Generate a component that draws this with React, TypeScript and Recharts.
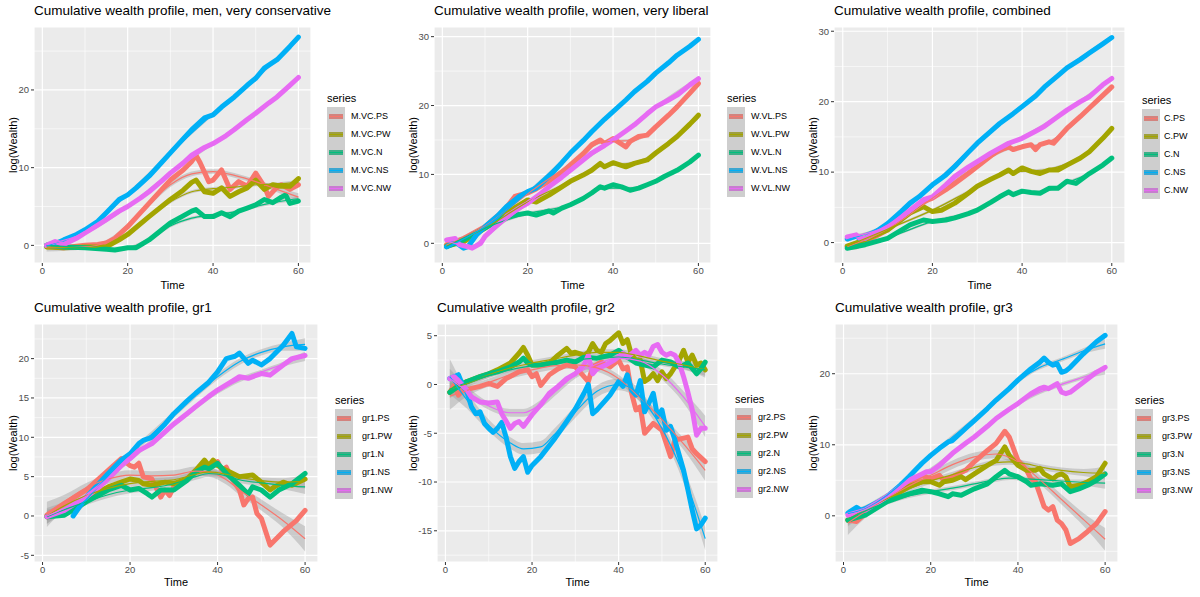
import { ComposedChart, Line, Area, XAxis, YAxis, CartesianGrid } from "recharts";

type Pt = [number, number];
// [time, fitted value, half-width of the confidence band]
type Fit = [number, number, number];

const FONT = "'Liberation Sans', Arial, sans-serif";
const COLORS = ["#F8766D", "#A3A500", "#00BF7D", "#00B0F6", "#E76BF3"];
const SUFFIXES = ["PS", "PW", "N", "NS", "NW"];
const X_TICKS = [0, 20, 40, 60];
const X_MINOR = [10, 30, 50];

// ---- men, very conservative ----
const M_VC_PS: Pt[] = [[1,0],[3,-0.2],[5,-0.3],[8,-0.1],[10,0],[13,0.1],[15,0.3],[17,0.9],[20,2.4],[22,3.6],[25,5.4],[28,7.2],[30,8.4],[33,9.7],[35,10.8],[36,11.6],[37,10.6],[39,8.2],[40,8.4],[42,9.7],[44,7.2],[46,8.2],[48,7.6],[50,9.3],[52,7.6],[53,6.3],[55,7.5],[56,7.8],[58,7.2],[60,7.8]];
const M_VC_PW: Pt[] = [[1,-0.2],[5,-0.3],[10,-0.2],[15,-0.2],[18,0.7],[20,1.4],[25,3.7],[30,5.9],[33,7.1],[35,8.1],[36,8.4],[38,6.9],[40,6.7],[42,7.4],[44,6.3],[46,6.9],[48,7.4],[50,8.4],[52,7.2],[54,7.8],[56,7.6],[58,7.6],[60,8.6]];
const M_VC_N: Pt[] = [[1,0],[5,-0.2],[10,-0.3],[15,-0.5],[17,-0.6],[20,-0.3],[22,-0.3],[25,0.7],[28,2],[30,2.9],[33,3.8],[35,4.4],[36,4.6],[38,3.7],[40,3.7],[42,4.2],[44,3.7],[46,4.4],[48,4.8],[50,5.2],[52,5.9],[54,5.5],[56,6.2],[57,6.5],[58,5.4],[60,5.7]];
const M_VC_NS: Pt[] = [[1,0],[3,0.2],[5,0.7],[8,1.4],[10,2],[13,3.1],[15,4.2],[18,5.9],[20,6.5],[22,7.4],[25,8.9],[28,10.7],[30,11.9],[33,13.7],[35,14.9],[38,16.4],[40,16.8],[42,17.8],[45,19.1],[48,20.6],[50,21.5],[52,22.8],[55,23.9],[58,25.6],[60,26.8]];
const M_VC_NW: Pt[] = [[1,0],[3,0.5],[5,0.1],[8,0.9],[10,1.6],[13,2.6],[15,3.3],[18,4.4],[20,5],[23,6.1],[25,6.9],[28,8.3],[30,9.3],[33,10.6],[35,11.6],[38,12.6],[40,13.1],[43,14.1],[45,14.9],[48,16.2],[50,17],[53,18.3],[55,19.1],[58,20.6],[60,21.6]];
const M_VC_PS_FIT: Fit[] = [[1,-0.3,0.5],[10,-0.2,0.3],[15,0.4,0.3],[20,2.5,0.3],[25,5.3,0.3],[30,7.8,0.3],[35,9.2,0.3],[40,9.5,0.3],[45,9,0.3],[50,8.2,0.3],[55,7.2,0.35],[60,6.2,0.5]];
const M_VC_PW_FIT: Fit[] = [[1,-0.2,0.3],[10,-0.3,0.2],[15,0,0.2],[20,1.5,0.2],[25,3.7,0.2],[30,5.6,0.2],[35,6.9,0.2],[40,7.3,0.2],[45,7.5,0.2],[50,7.8,0.2],[55,7.9,0.2],[60,8.1,0.3]];
const M_VC_N_FIT: Fit[] = [[1,0,0.3],[10,-0.3,0.2],[15,-0.5,0.2],[20,-0.3,0.2],[25,0.7,0.2],[30,2.5,0.2],[35,3.5,0.2],[40,3.9,0.2],[45,4.3,0.2],[50,5,0.2],[55,5.6,0.2],[60,6,0.3]];
const M_VC_NS_FIT: Fit[] = [[1,-0.1,0.3],[10,2,0.2],[20,6.6,0.2],[30,11.9,0.2],[40,16.9,0.2],[50,21.5,0.2],[60,26.6,0.3]];
const M_VC_NW_FIT: Fit[] = [[1,0.1,0.3],[10,1.6,0.2],[20,5,0.2],[30,9.3,0.2],[40,13.1,0.2],[50,17,0.2],[60,21.6,0.3]];

// ---- women, very liberal ----
const W_VL_PS: Pt[] = [[1,-0.2],[5,0.7],[10,2.4],[13,4],[15,5.2],[17,6.8],[18,7],[20,7.3],[22,7.9],[25,9],[28,10.3],[30,11.4],[33,13],[35,14.3],[37,15],[38,14.5],[40,15.2],[41,14.8],[43,14],[44,14.8],[46,15.5],[48,15.7],[50,16.9],[53,18.6],[55,19.8],[58,21.8],[60,23.2]];
const W_VL_PW: Pt[] = [[1,-0.4],[5,0.2],[10,2.2],[15,4.4],[20,6.3],[22,6],[25,7],[28,8.2],[30,9],[33,9.9],[35,10.6],[37,11.6],[38,11.1],[40,11.7],[43,11.1],[45,11.6],[48,12.1],[50,13.1],[53,14.5],[55,15.5],[58,17.3],[60,18.6]];
const W_VL_N: Pt[] = [[1,-0.5],[5,0.5],[10,2.2],[15,3.9],[18,4.2],[20,4.4],[22,4.1],[25,4.7],[26,4.4],[28,5.1],[30,5.6],[33,6.5],[35,7.3],[37,8.2],[38,8],[40,8.5],[42,8.2],[44,7.7],[46,8],[48,8.5],[50,9],[52,9.7],[55,10.6],[58,11.8],[60,12.8]];
const W_VL_NS: Pt[] = [[1,-0.5],[3,0.2],[5,-0.7],[6,-0.5],[8,1.2],[10,2.4],[13,4],[15,5.3],[18,6.8],[20,7.5],[22,8],[25,9.7],[28,11.7],[30,13.1],[33,14.9],[35,16.2],[38,18],[40,19.1],[43,20.8],[45,22],[48,23.5],[50,24.7],[53,26.2],[55,27.3],[58,28.6],[60,29.6]];
const W_VL_NW: Pt[] = [[1,0.5],[3,0.7],[4,-0.2],[6,-0.5],[7,-0.7],[9,0],[10,1],[13,2.7],[15,3.9],[18,5.1],[20,5.8],[23,7.2],[25,8.2],[28,9.6],[30,10.6],[33,12.1],[35,13.1],[38,14.2],[40,15],[43,16.3],[45,17.2],[48,18.8],[50,19.8],[53,20.8],[55,21.5],[58,23],[60,23.9]];
const W_VL_PS_FIT: Fit[] = [[1,-0.3,0.4],[10,2.5,0.2],[20,7.2,0.2],[30,11.5,0.2],[37,14.6,0.2],[40,14.8,0.2],[45,15,0.2],[50,16.8,0.2],[55,19.7,0.2],[60,23.1,0.4]];
const W_VL_PW_FIT: Fit[] = [[1,-0.4,0.3],[10,2.2,0.2],[20,6,0.2],[30,9,0.2],[37,11.2,0.2],[45,11.7,0.2],[50,13,0.2],[55,15.5,0.2],[60,18.3,0.3]];
const W_VL_N_FIT: Fit[] = [[1,-0.5,0.3],[10,2.2,0.2],[20,4.3,0.2],[30,5.6,0.2],[38,8,0.2],[45,8,0.2],[50,9,0.2],[55,10.6,0.2],[60,12.7,0.3]];
const W_VL_NS_FIT: Fit[] = [[1,-0.6,0.3],[10,2.4,0.2],[20,7.4,0.2],[30,13.1,0.2],[40,19.1,0.2],[50,24.7,0.2],[60,29.6,0.3]];
const W_VL_NW_FIT: Fit[] = [[1,0.3,0.3],[7,-0.4,0.2],[10,1,0.2],[20,5.8,0.2],[30,10.6,0.2],[40,15,0.2],[50,19.8,0.2],[60,23.9,0.3]];

// ---- combined ----
const C_PS: Pt[] = [[1,-0.6],[3,-0.6],[5,0.1],[8,1.1],[10,1.8],[13,3.3],[15,4.4],[18,5.8],[20,6.3],[23,7.5],[25,8.4],[28,9.8],[30,10.8],[33,12.3],[35,13.2],[37,13.6],[38,13.2],[40,13.6],[42,13.9],[43,13.2],[44,13.9],[46,14.3],[47,14.1],[50,16.2],[53,17.9],[55,19.1],[58,20.9],[60,22.1]];
const C_PW: Pt[] = [[1,-0.5],[5,0.4],[10,1.8],[15,4.2],[18,5.1],[20,4.4],[22,4.6],[25,5.6],[28,7],[30,8],[33,9],[35,9.6],[37,10.3],[38,9.8],[40,10.6],[42,10.1],[44,9.8],[46,10.3],[48,10.3],[50,11],[53,12],[55,12.9],[58,14.8],[60,16.2]];
const C_N: Pt[] = [[1,-0.8],[5,-0.3],[10,0.6],[15,2.5],[18,3.2],[20,3],[23,3.2],[25,3.5],[28,4.1],[30,4.6],[33,5.7],[35,6.5],[37,7.2],[38,6.8],[40,7.3],[42,7.1],[44,7],[46,7.7],[48,7.7],[50,8.7],[52,8.4],[55,9.8],[58,11],[60,12]];
const C_NS: Pt[] = [[1,0.5],[3,0.9],[4,0.5],[5,0.6],[8,1.8],[10,2.7],[13,4.4],[15,5.6],[17,6.5],[20,8.2],[23,9.6],[25,10.8],[28,12.8],[30,14.1],[33,15.8],[35,16.9],[38,18.3],[40,19.3],[43,20.8],[45,22.1],[48,23.7],[50,24.8],[53,26],[55,26.9],[58,28.2],[60,29.1]];
const C_NW: Pt[] = [[1,0.8],[3,1.1],[4,0.5],[5,0.6],[8,1.6],[10,2.3],[13,3.6],[15,4.6],[18,6.1],[20,6.5],[23,8.2],[25,9.4],[28,10.7],[30,11.5],[33,12.7],[35,13.4],[37,14.1],[40,14.8],[43,15.8],[45,16.5],[48,17.9],[50,18.8],[53,20],[55,20.7],[58,22.4],[60,23.3]];
const C_PS_FIT: Fit[] = [[1,-0.6,0.4],[10,1.9,0.2],[20,6.3,0.2],[30,10.9,0.2],[37,13.3,0.2],[45,14,0.2],[50,16,0.2],[55,19,0.2],[60,22,0.4]];
const C_PW_FIT: Fit[] = [[1,-0.5,0.3],[10,1.9,0.2],[20,4.6,0.2],[30,7.9,0.2],[37,10,0.2],[45,10.3,0.2],[50,11.2,0.2],[55,13,0.2],[60,16,0.3]];
const C_N_FIT: Fit[] = [[1,-0.8,0.3],[10,0.7,0.2],[20,3,0.2],[30,4.6,0.2],[37,6.9,0.2],[45,7.3,0.2],[50,8.5,0.2],[55,9.8,0.2],[60,11.8,0.3]];
const C_NS_FIT: Fit[] = [[1,0.4,0.3],[10,2.7,0.2],[20,8.2,0.2],[30,14.1,0.2],[40,19.3,0.2],[50,24.8,0.2],[60,29.1,0.3]];
const C_NW_FIT: Fit[] = [[1,0.7,0.3],[10,2.3,0.2],[20,6.6,0.2],[30,11.4,0.2],[40,14.9,0.2],[50,18.8,0.2],[60,23.3,0.3]];

// ---- gr1 ----
const GR1_PS: Pt[] = [[1,0.1],[5,1.6],[10,3.3],[15,5.8],[18,7.3],[20,6.4],[21,6.2],[22,6.7],[23,5],[25,4.7],[27,2.4],[28,3.3],[29,2.6],[30,3.7],[33,4.7],[35,5.8],[37,6.4],[38,6],[40,6.9],[41,5.8],[42,6.2],[43,5],[45,3.3],[46,1.4],[47,2.2],[48,2.4],[49,0.3],[50,-0.3],[52,-3.7],[55,-2],[58,-0.6],[60,0.7]];
const GR1_PW: Pt[] = [[1,-0.1],[5,0.5],[10,2.2],[15,3.7],[18,4.3],[20,4.7],[22,4.5],[23,4.1],[25,3.9],[28,4.3],[30,4.1],[33,4.7],[35,5.8],[37,7.1],[38,6.4],[39,7.1],[40,6.4],[42,5.8],[45,5],[48,5.2],[50,4.3],[52,3.3],[53,3.7],[55,4.3],[57,3.9],[60,4.7]];
const GR1_N: Pt[] = [[1,-0.1],[5,0.1],[8,1.1],[10,1.8],[15,3.3],[18,3.9],[20,3.3],[22,3.5],[24,2.8],[25,2.4],[27,3.3],[30,3.3],[33,4.5],[35,5.6],[37,6.2],[38,6],[40,6.7],[42,5.4],[45,3.9],[47,2.8],[48,3.7],[50,3.3],[52,2.4],[54,3.3],[57,4.1],[60,5.4]];
const GR1_NS: Pt[] = [[7,0],[10,2.4],[13,4.2],[15,5.4],[18,7.1],[20,7.9],[22,9.2],[23,9.6],[25,10],[28,11.7],[30,13],[33,14.6],[35,15.6],[38,17],[40,18.3],[42,20],[44,20.3],[45,20.7],[47,19.4],[48,19.8],[50,19.2],[52,20],[55,21.7],[57,23.2],[58,21.5],[60,21.3]];
const GR1_NW: Pt[] = [[1,-0.1],[5,0.7],[8,1.8],[10,2.4],[13,3.7],[15,4.7],[18,6.4],[20,7.3],[22,8.3],[25,9.2],[28,10.7],[30,11.7],[33,13],[35,13.9],[38,15.2],[40,16],[43,17],[45,17.7],[47,17.5],[50,18.1],[52,17.9],[55,19.2],[57,20],[60,20.4]];
const GR1_PS_FIT: Fit[] = [[1,0.2,1.6],[5,1.8,0.9],[10,3.6,0.6],[15,4.7,0.6],[20,5.2,0.6],[25,5.1,0.6],[30,5.2,0.6],[35,5.7,0.6],[38,5.6,0.6],[42,4.6,0.6],[45,3.3,0.6],[50,1.4,0.7],[55,-0.6,0.9],[60,-2.9,1.6]];
const GR1_PW_FIT: Fit[] = [[1,0,1],[5,1.3,0.5],[10,2.6,0.4],[15,3.5,0.4],[20,4.1,0.4],[25,4.4,0.4],[30,4.6,0.4],[35,5.3,0.4],[38,5.6,0.4],[42,5.3,0.4],[45,4.9,0.4],[50,4.5,0.4],[55,4.3,0.5],[60,4.4,0.9]];
const GR1_N_FIT: Fit[] = [[1,-0.1,0.9],[5,0.8,0.5],[10,1.8,0.4],[15,2.7,0.4],[20,3.3,0.4],[25,3.6,0.4],[30,4.1,0.4],[35,5,0.4],[38,5.4,0.4],[42,5.1,0.4],[45,4.6,0.4],[50,4.2,0.4],[55,3.9,0.5],[60,3.7,0.9]];
const GR1_NS_FIT: Fit[] = [[7,0.5,0.8],[10,2.1,0.5],[15,5.1,0.4],[20,7.9,0.4],[25,10.4,0.4],[30,12.9,0.4],[35,15.4,0.4],[40,17.7,0.4],[45,19.6,0.4],[50,20.8,0.4],[55,21.5,0.5],[60,21.8,0.8]];
const GR1_NW_FIT: Fit[] = [[1,0,0.6],[5,1,0.3],[10,2.5,0.3],[15,4.8,0.3],[20,7.2,0.3],[25,9.5,0.3],[30,11.6,0.3],[35,13.8,0.3],[40,15.8,0.3],[45,17.3,0.3],[50,18.3,0.3],[55,19.3,0.3],[60,20.3,0.6]];

// ---- gr2 ----
const GR2_PS: Pt[] = [[1,-0.8],[2,-0.1],[3,-1.1],[4,-0.6],[6,-0.4],[8,-0.2],[10,0.1],[12,-0.2],[14,0.6],[17,1.3],[19,1.5],[20,0.8],[21,1.1],[22,-0.1],[24,1],[26,1.6],[28,2],[30,1.8],[32,0.8],[33,0.3],[34,1.8],[36,2.3],[38,1.8],[40,2.5],[41,1.6],[42,1.8],[43,-0.9],[44,-2.6],[45,-2.3],[46,-5],[48,-4],[50,-4.7],[52,-7.4],[53,-5.7],[55,-5.5],[56,-5.4],[57,-6.6],[58,-7.1],[60,-7.9]];
const GR2_PW: Pt[] = [[1,-0.8],[3,-0.1],[5,0.3],[8,0.8],[10,1.1],[12,1.5],[15,2.2],[17,3.2],[18,3.8],[19,3],[20,2],[22,2],[24,2.2],[26,3],[28,3.7],[29,3.2],[30,3.3],[32,3],[33,3.3],[34,4.2],[35,3.5],[36,3.3],[37,4.2],[38,4.5],[39,4.9],[40,5.3],[41,4.2],[42,4.6],[43,3],[44,2.5],[45,2.5],[46,0.3],[47,0.6],[48,1.1],[49,0.4],[50,1.3],[51,0.6],[52,1.1],[54,2.5],[55,3.5],[56,2.3],[57,3],[58,2],[59,2.2],[60,1.5]];
const GR2_N: Pt[] = [[1,-0.8],[3,-0.2],[5,0.3],[8,0.8],[10,1.1],[12,1.3],[15,1.8],[17,2.3],[18,2.7],[19,2.2],[20,2],[22,2],[25,2.2],[28,2.5],[30,2.3],[32,2.8],[35,2.7],[38,3],[40,3.5],[42,2.8],[44,2.2],[46,2],[48,1.8],[50,2.5],[52,2.3],[54,1.8],[56,2.2],[58,1.1],[59,1.6],[60,2.3]];
const GR2_NS: Pt[] = [[1,0.6],[2,0.8],[3,1],[4,-0.1],[5,-0.8],[6,-2.3],[7,-3],[8,-2.8],[9,-4],[10,-4.5],[11,-4.9],[12,-4.5],[13,-3.9],[14,-5.4],[15,-7.4],[16,-8.6],[17,-7.9],[18,-7.4],[19,-9],[20,-8.3],[22,-7.4],[25,-5.7],[28,-3.8],[30,-2.5],[32,-0.9],[33,0],[34,-3],[35,-2.6],[37,-1.6],[38,-1.1],[40,0.3],[41,-0.2],[42,1],[43,-0.6],[44,-1.1],[45,0.4],[46,-2.8],[47,-1.9],[48,-0.9],[49,-3.3],[50,-2.6],[51,-4.7],[52,-4.3],[53,-5.7],[55,-8.8],[56,-10.8],[57,-12.9],[58,-14.8],[59,-14.4],[60,-13.7]];
const GR2_NW: Pt[] = [[1,0.6],[2,0.8],[3,0.4],[5,-0.6],[6,-1.3],[8,-1.8],[10,-1.9],[12,-1.8],[13,-3],[15,-4.5],[16,-4],[17,-3.8],[18,-4.3],[20,-3.1],[22,-2.1],[24,-0.9],[26,-0.2],[28,0.6],[30,1.1],[32,2],[33,3],[34,1.1],[35,1.6],[37,2],[39,2.5],[41,3.2],[42,2.8],[44,3.5],[45,3],[46,3.3],[47,3],[48,3.9],[49,4.1],[50,3.3],[51,3],[52,3.2],[53,3],[54,2.2],[55,0.8],[56,-0.8],[57,-2.6],[58,-5.2],[59,-4.5],[60,-4.5]];
const GR2_PS_FIT: Fit[] = [[1,-1.2,1.4],[5,-0.6,0.6],[10,0.2,0.4],[15,1,0.4],[20,1.5,0.4],[25,1.9,0.4],[30,2,0.4],[35,1.7,0.4],[40,0.6,0.4],[45,-1.4,0.4],[50,-3.6,0.5],[55,-6.1,0.6],[60,-8.8,1.1]];
const GR2_PW_FIT: Fit[] = [[1,-0.5,0.9],[5,0.1,0.4],[10,1,0.3],[15,1.7,0.3],[20,2.2,0.3],[25,2.6,0.3],[30,3,0.3],[35,3.3,0.3],[40,3.3,0.3],[45,2.9,0.3],[50,2.4,0.3],[55,2,0.4],[60,1.5,0.8]];
const GR2_N_FIT: Fit[] = [[1,-0.5,0.7],[5,0.2,0.3],[10,0.9,0.2],[15,1.5,0.2],[20,1.9,0.2],[25,2.2,0.2],[30,2.5,0.2],[35,2.7,0.2],[40,2.8,0.2],[45,2.5,0.2],[50,2.1,0.2],[55,1.8,0.3],[60,1.5,0.6]];
const GR2_NS_FIT: Fit[] = [[1,0.8,1.8],[5,-1.6,0.9],[10,-4.2,0.6],[15,-6,0.6],[18,-6.6,0.6],[22,-6.4,0.6],[25,-5.2,0.6],[30,-2.8,0.6],[35,-0.7,0.6],[40,0,0.6],[43,-0.4,0.6],[47,-2.4,0.6],[50,-4.5,0.6],[55,-9.3,0.8],[60,-15.8,1.2]];
const GR2_NW_FIT: Fit[] = [[1,0.6,1],[5,-0.7,0.5],[10,-2.2,0.4],[15,-2.9,0.4],[18,-2.9,0.4],[22,-2,0.4],[26,-0.5,0.4],[30,1,0.4],[35,2.1,0.4],[40,2.7,0.4],[45,2.4,0.4],[50,1,0.5],[55,-1.3,0.6],[60,-4.3,1.1]];

// ---- gr3 ----
const GR3_PS: Pt[] = [[1,-0.6],[3,-0.8],[5,0.3],[10,2.2],[15,4.5],[18,5.7],[20,5.2],[22,5.7],[23,5],[25,5.5],[28,6.4],[30,7.6],[33,9.2],[35,10.2],[37,11.9],[38,11.1],[40,7.8],[42,6.4],[43,5.2],[44,4.8],[45,3.1],[46,1.3],[47,0.8],[48,1.3],[49,-0.6],[50,-1.1],[51,-2],[52,-3.9],[54,-3.2],[56,-2.2],[58,-1.1],[60,0.6]];
const GR3_PW: Pt[] = [[1,-0.6],[5,0.3],[10,2.2],[15,4.1],[18,4.8],[20,4.8],[22,4.3],[23,4.8],[25,5],[27,5.5],[28,5.1],[30,5.9],[33,7.1],[35,7.8],[37,9.7],[38,8.5],[40,7.1],[42,6.4],[44,6.4],[45,6.7],[46,5.9],[48,5.2],[49,5.7],[50,5.9],[51,5.5],[52,4.1],[54,4.3],[56,4.8],[58,5.5],[60,7.4]];
const GR3_N: Pt[] = [[1,-0.6],[5,0.1],[10,2],[15,3.1],[18,3.6],[20,3.4],[22,3.1],[24,2.7],[25,3.1],[27,2.9],[30,3.8],[33,4.5],[35,5.5],[37,6.4],[38,5.9],[40,5.5],[42,4.8],[43,4.3],[45,4.5],[48,4.3],[50,4.5],[52,3.4],[54,3.8],[56,4.3],[58,5],[60,5.9]];
const GR3_NS: Pt[] = [[1,0.4],[3,1.2],[4,0.8],[5,1],[8,2],[10,2.7],[13,4.3],[15,5.5],[18,7.4],[20,8.5],[22,9.5],[24,10.4],[25,10.6],[28,12.3],[30,13.4],[33,15.1],[35,16.3],[38,17.9],[40,19.1],[43,20.7],[45,21.6],[46,22.2],[47,21.6],[48,21.2],[49,21.4],[50,20.2],[51,20.4],[52,20.9],[55,22.8],[58,24.5],[60,25.4]];
const GR3_NW: Pt[] = [[1,0.1],[5,0.8],[10,2.7],[15,5],[18,5.9],[19,6.2],[20,6.2],[22,7.1],[25,8.8],[28,10.2],[30,11.1],[33,12.6],[35,13.7],[38,15],[40,15.8],[43,17.2],[45,17.9],[46,18.1],[47,17.9],[49,18.6],[50,17.4],[51,17.2],[52,17.4],[55,18.8],[58,20.2],[60,20.9]];
const GR3_PS_FIT: Fit[] = [[1,-1,1.7],[5,0.6,0.9],[10,2.5,0.7],[15,4.2,0.6],[20,5.7,0.6],[25,7.2,0.6],[30,8.3,0.6],[35,8.7,0.6],[40,7.6,0.6],[45,5.1,0.6],[50,2.3,0.7],[55,-0.5,0.9],[60,-3.3,1.6]];
const GR3_PW_FIT: Fit[] = [[1,-0.5,1],[5,0.9,0.5],[10,2.4,0.4],[15,3.8,0.4],[20,4.9,0.4],[25,5.8,0.4],[30,6.8,0.4],[35,7.5,0.4],[38,7.6,0.4],[42,7.3,0.4],[45,6.9,0.4],[50,6.4,0.4],[55,6.1,0.5],[60,6,0.9]];
const GR3_N_FIT: Fit[] = [[1,-0.5,0.8],[5,0.7,0.4],[10,1.9,0.3],[15,2.8,0.3],[20,3.4,0.3],[25,3.9,0.3],[30,4.5,0.3],[35,5.1,0.3],[38,5.3,0.3],[42,5.2,0.3],[45,5.1,0.3],[50,4.9,0.3],[55,4.7,0.4],[60,4.6,0.8]];
const GR3_NS_FIT: Fit[] = [[1,0.3,0.6],[5,1,0.3],[10,2.9,0.3],[15,5.5,0.3],[20,8.5,0.3],[25,11.1,0.3],[30,13.6,0.3],[35,16.3,0.3],[40,19,0.3],[45,20.9,0.3],[50,22,0.3],[55,23.2,0.4],[60,24.2,0.7]];
const GR3_NW_FIT: Fit[] = [[1,0.1,0.5],[5,0.9,0.3],[10,2.6,0.3],[15,4.8,0.3],[20,6.5,0.3],[25,8.8,0.3],[30,11.1,0.3],[35,13.7,0.3],[40,15.8,0.3],[45,17.4,0.3],[50,18.5,0.3],[55,19.5,0.3],[60,20.5,0.6]];

interface PanelSpec {
  title: string;
  prefix: string;
  lines: Pt[][];
  fits: Fit[][];
  yDomain: [number, number];
  yTicks: number[];
  yMinor: number[];
  // layout
  x: number;
  y: number;
  plotLeft: number;
  plotRight: number;
  plotBottom: number;
  legendX: number;
  legendTop: number;
  labelX: number;
}

const PLOT_TOP = 27;
const X_AXIS_H = 34;
const KEY_H = 18;

const PANELS: PanelSpec[] = [
  {
    title: "Cumulative wealth profile, men, very conservative",
    prefix: "M.VC.",
    lines: [M_VC_PS, M_VC_PW, M_VC_N, M_VC_NS, M_VC_NW],
    fits: [M_VC_PS_FIT, M_VC_PW_FIT, M_VC_N_FIT, M_VC_NS_FIT, M_VC_NW_FIT],
    yDomain: [-2.27, 28.1],
    yTicks: [0, 10, 20],
    yMinor: [5, 15, 25],
    x: 0, y: 0, plotLeft: 34, plotRight: 311, plotBottom: 263,
    legendX: 327, legendTop: 107, labelX: 351,
  },
  {
    title: "Cumulative wealth profile, women, very liberal",
    prefix: "W.VL.",
    lines: [W_VL_PS, W_VL_PW, W_VL_N, W_VL_NS, W_VL_NW],
    fits: [W_VL_PS_FIT, W_VL_PW_FIT, W_VL_N_FIT, W_VL_NS_FIT, W_VL_NW_FIT],
    yDomain: [-2.86, 31.4],
    yTicks: [0, 10, 20, 30],
    yMinor: [5, 15, 25],
    x: 400, y: 0, plotLeft: 34, plotRight: 311, plotBottom: 263,
    legendX: 327, legendTop: 107, labelX: 351,
  },
  {
    title: "Cumulative wealth profile, combined",
    prefix: "C.",
    lines: [C_PS, C_PW, C_N, C_NS, C_NW],
    fits: [C_PS_FIT, C_PW_FIT, C_N_FIT, C_NS_FIT, C_NW_FIT],
    yDomain: [-2.9, 30.6],
    yTicks: [0, 10, 20, 30],
    yMinor: [5, 15, 25],
    x: 800, y: 0, plotLeft: 34, plotRight: 325, plotBottom: 263,
    legendX: 342, legendTop: 109, labelX: 364,
  },
  {
    title: "Cumulative wealth profile, gr1",
    prefix: "gr1.",
    lines: [GR1_PS, GR1_PW, GR1_N, GR1_NS, GR1_NW],
    fits: [GR1_PS_FIT, GR1_PW_FIT, GR1_N_FIT, GR1_NS_FIT, GR1_NW_FIT],
    yDomain: [-5.85, 24.4],
    yTicks: [-5, 0, 5, 10, 15, 20],
    yMinor: [-2.5, 2.5, 7.5, 12.5, 17.5, 22.5],
    x: 0, y: 297, plotLeft: 34, plotRight: 318, plotBottom: 265,
    legendX: 335, legendTop: 112, labelX: 362,
  },
  {
    title: "Cumulative wealth profile, gr2",
    prefix: "gr2.",
    lines: [GR2_PS, GR2_PW, GR2_N, GR2_NS, GR2_NW],
    fits: [GR2_PS_FIT, GR2_PW_FIT, GR2_N_FIT, GR2_NS_FIT, GR2_NW_FIT],
    yDomain: [-18.2, 6.2],
    yTicks: [-15, -10, -5, 0, 5],
    yMinor: [-17.5, -12.5, -7.5, -2.5, 2.5],
    x: 400, y: 297, plotLeft: 37, plotRight: 318, plotBottom: 265,
    legendX: 335, legendTop: 111, labelX: 358,
  },
  {
    title: "Cumulative wealth profile, gr3",
    prefix: "gr3.",
    lines: [GR3_PS, GR3_PW, GR3_N, GR3_NS, GR3_NW],
    fits: [GR3_PS_FIT, GR3_PW_FIT, GR3_N_FIT, GR3_NS_FIT, GR3_NW_FIT],
    yDomain: [-6.5, 27],
    yTicks: [0, 10, 20],
    yMinor: [-5, 5, 15, 25],
    x: 800, y: 297, plotLeft: 35, plotRight: 318, plotBottom: 265,
    legendX: 335, legendTop: 112, labelX: 362,
  },
];

const toRows = (pts: Pt[]) => pts.map(([t, y]) => ({ t, y }));
const toFitRows = (pts: Fit[]) =>
  pts.map(([t, y, w]) => ({ t, fit: y, band: [y - w, y + w] }));

const tickStyle = { fontSize: 9.5, fill: "#4D4D4D", fontFamily: FONT };

function Legend({ p }: { p: PanelSpec }) {
  return (
    <>
      <div
        style={{
          position: "absolute",
          left: p.legendX,
          top: p.legendTop - 15,
          fontSize: 11,
          color: "#000",
        }}
      >
        series
      </div>
      {SUFFIXES.map((s, i) => (
        <div key={s}>
          <div
            style={{
              position: "absolute",
              left: p.legendX,
              top: p.legendTop + i * KEY_H,
              width: 18,
              height: KEY_H,
              background: "#F2F2F2",
            }}
          >
            <div
              style={{
                position: "absolute",
                left: 2,
                right: 2,
                top: 6.5,
                height: 5,
                background: COLORS[i],
              }}
            />
            <div
              style={{
                position: "absolute",
                inset: 0,
                background: "rgba(153,153,153,0.4)",
              }}
            />
            <div
              style={{
                position: "absolute",
                left: 2,
                right: 2,
                top: 8.5,
                height: 1,
                background: COLORS[i],
              }}
            />
          </div>
          <div
            style={{
              position: "absolute",
              left: p.labelX,
              top: p.legendTop + i * KEY_H + 3,
              fontSize: 9,
              lineHeight: "12px",
              color: "#000",
              whiteSpace: "nowrap",
            }}
          >
            {p.prefix + s}
          </div>
        </div>
      ))}
    </>
  );
}

function Panel({ p }: { p: PanelSpec }) {
  const midX = (p.plotLeft + p.plotRight) / 2;
  const midY = (PLOT_TOP + p.plotBottom) / 2;
  return (
    <div
      style={{
        position: "absolute",
        left: p.x,
        top: p.y,
        width: 400,
        height: 297,
      }}
    >
      <div
        style={{
          position: "absolute",
          left: p.plotLeft,
          top: 3,
          fontSize: 13.5,
          color: "#000",
          whiteSpace: "nowrap",
        }}
      >
        {p.title}
      </div>
      <div
        style={{
          position: "absolute",
          left: 13,
          top: midY,
          fontSize: 11,
          color: "#000",
          whiteSpace: "nowrap",
          transform: "translate(-50%, -50%) rotate(-90deg)",
        }}
      >
        log(Wealth)
      </div>
      <div
        style={{
          position: "absolute",
          left: midX,
          top: 279,
          fontSize: 11,
          color: "#000",
          transform: "translateX(-50%)",
        }}
      >
        Time
      </div>
      <ComposedChart
        width={p.plotRight}
        height={p.plotBottom + X_AXIS_H}
        margin={{ top: PLOT_TOP, right: 0, bottom: 0, left: 0 }}
      >
        <CartesianGrid
          fill="#EBEBEB"
          stroke="#FFFFFF"
          strokeWidth={0.6}
          horizontalValues={p.yMinor}
          verticalValues={X_MINOR}
        />
        <CartesianGrid stroke="#FFFFFF" strokeWidth={1.2} />
        <XAxis
          type="number"
          dataKey="t"
          domain={[-1.95, 62.95]}
          allowDataOverflow
          ticks={X_TICKS}
          axisLine={false}
          tickLine={{ stroke: "#333333" }}
          tickSize={3}
          tickMargin={1}
          height={X_AXIS_H}
          tick={tickStyle}
        />
        <YAxis
          type="number"
          domain={p.yDomain}
          allowDataOverflow
          ticks={p.yTicks}
          axisLine={false}
          tickLine={{ stroke: "#333333" }}
          tickSize={3}
          tickMargin={2}
          width={p.plotLeft}
          tick={tickStyle}
        />
        {p.lines.map((pts, i) => (
          <Line
            key={"l" + i}
            data={toRows(pts)}
            dataKey="y"
            type="linear"
            stroke={COLORS[i]}
            strokeWidth={5}
            strokeLinejoin="round"
            strokeLinecap="round"
            dot={false}
            activeDot={false}
            isAnimationActive={false}
          />
        ))}
        {p.fits.map((pts, i) => (
          <Area
            key={"b" + i}
            data={toFitRows(pts)}
            dataKey="band"
            type="monotone"
            stroke="none"
            fill="#999999"
            fillOpacity={0.4}
            dot={false}
            activeDot={false}
            isAnimationActive={false}
          />
        ))}
        {p.fits.map((pts, i) => (
          <Line
            key={"f" + i}
            data={toFitRows(pts)}
            dataKey="fit"
            type="monotone"
            stroke={COLORS[i]}
            strokeWidth={1.2}
            dot={false}
            activeDot={false}
            isAnimationActive={false}
          />
        ))}
      </ComposedChart>
      <Legend p={p} />
    </div>
  );
}

export default function App() {
  return (
    <div
      style={{
        position: "absolute",
        left: 0,
        top: 0,
        width: 1200,
        height: 597,
        background: "#FFFFFF",
        fontFamily: FONT,
        overflow: "hidden",
      }}
    >
      {PANELS.map((p) => (
        <Panel key={p.prefix} p={p} />
      ))}
    </div>
  );
}
